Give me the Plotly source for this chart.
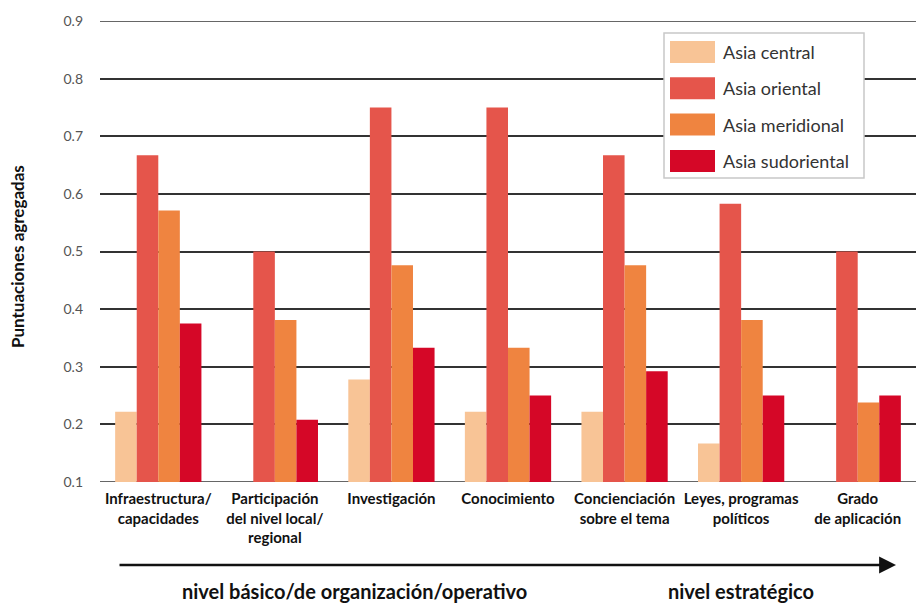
import plotly.graph_objects as go

categories = [
    "Infraestructura/<br>capacidades",
    "Participación<br>del nivel local/<br>regional",
    "Investigación",
    "Conocimiento",
    "Concienciación<br>sobre el tema",
    "Leyes, programas<br>políticos",
    "Grado<br>de aplicación",
]
series_names = ["Asia central", "Asia oriental", "Asia meridional", "Asia sudoriental"]
asia_central = [0.222, None, 0.278, 0.222, 0.222, 0.167, None]
asia_oriental = [0.667, 0.500, 0.750, 0.750, 0.667, 0.583, 0.500]
asia_meridional = [0.571, 0.381, 0.476, 0.333, 0.476, 0.381, 0.238]
asia_sudoriental = [0.375, 0.208, 0.333, 0.250, 0.292, 0.250, 0.250]
series_values = [asia_central, asia_oriental, asia_meridional, asia_sudoriental]
colors = ["#F8C496", "#E5554B", "#EF8440", "#D50727"]
y_ticks = [0.1, 0.2, 0.3, 0.4, 0.5, 0.6, 0.7, 0.8, 0.9]
y_tick_labels = ["0.1", "0.2", "0.3", "0.4", "0.5", "0.6", "0.7", "0.8", "0.9"]

W, H = 918, 605
L, R, T, B = 100, 2, 21, 123
pw, ph = W - L - R, H - T - B

def px_x(px):
    return (px - L) / pw

def px_y(py):
    return (H - B - py) / ph

fig = go.Figure()
for name, vals, col in zip(series_names, series_values, colors):
    fig.add_trace(go.Bar(x=categories, y=vals, name=name, marker_color=col,
                         marker_line_width=0, showlegend=False))

font_main = "Lato, 'Open Sans', sans-serif"

fig.update_layout(
    width=W, height=H,
    margin=dict(l=L, r=R, t=T, b=B, pad=0, autoexpand=False),
    paper_bgcolor="white", plot_bgcolor="white",
    barmode="group", bargap=0.26, bargroupgap=0,
    font=dict(family=font_main, color="#000"),
    xaxis=dict(
        showgrid=False, showline=False, ticks="", automargin=False,
        tickfont=dict(family=font_main, size=15, color="#111", weight="bold"),
        tickangle=0, ticklabelstandoff=6,
    ),
    yaxis=dict(
        range=[0.1, 0.9], tickvals=y_ticks, ticktext=y_tick_labels,
        showgrid=True, gridcolor="#333", gridwidth=1.5, automargin=False,
        zeroline=False, showline=False, ticks="",
        tickfont=dict(family=font_main, size=14, color="#555"),
        ticklabelstandoff=16,
    ),
)

# bottom and top lines at range edges
for yv in (0.1, 0.9):
    fig.add_shape(type="line", xref="paper", yref="y", x0=0, x1=1.0, y0=yv, y1=yv,
                  line=dict(color="#333", width=1.5), layer="below")

# y-axis title
fig.add_annotation(text="<b>Puntuaciones agregadas</b>", xref="paper", yref="paper",
                   x=px_x(17), y=px_y(257), xanchor="center", yanchor="middle",
                   textangle=-90, showarrow=False,
                   font=dict(family=font_main, size=17, color="#111"))

# arrow
fig.add_annotation(xref="paper", yref="paper", x=px_x(896), y=px_y(565),
                   ax=-(896 - 118), ay=0, axref="pixel", ayref="pixel",
                   showarrow=True, arrowhead=2, arrowsize=1.3, arrowwidth=2.6,
                   arrowcolor="#111", text="")

fig.add_annotation(text="<b>nivel básico/de organización/operativo</b>", xref="paper", yref="paper",
                   x=px_x(354), y=px_y(591), xanchor="center", yanchor="middle", showarrow=False,
                   font=dict(family=font_main, size=20, color="#111"))
fig.add_annotation(text="<b>nivel estratégico</b>", xref="paper", yref="paper",
                   x=px_x(741), y=px_y(591), xanchor="center", yanchor="middle", showarrow=False,
                   font=dict(family=font_main, size=20, color="#111"))

# legend (drawn)
fig.add_shape(type="rect", xref="paper", yref="paper",
              x0=px_x(664), x1=px_x(864), y0=px_y(178), y1=px_y(33),
              fillcolor="white", line=dict(color="#C8C8C8", width=1.5), layer="above")
for i, (name, col) in enumerate(zip(series_names, colors)):
    cy = 52 + i * 36.3
    fig.add_shape(type="rect", xref="paper", yref="paper",
                  x0=px_x(670), x1=px_x(715), y0=px_y(cy + 11), y1=px_y(cy - 11),
                  fillcolor=col, line=dict(width=0), layer="above")
    fig.add_annotation(text=name, xref="paper", yref="paper", x=px_x(721), y=px_y(cy),
                       xanchor="left", yanchor="middle", showarrow=False,
                       font=dict(family=font_main, size=18, color="#333"))

fig.write_html(
    "out.html",
    config={"displayModeBar": False},
    post_script="document.body.style.margin='0';document.body.style.overflow='hidden';",
)
